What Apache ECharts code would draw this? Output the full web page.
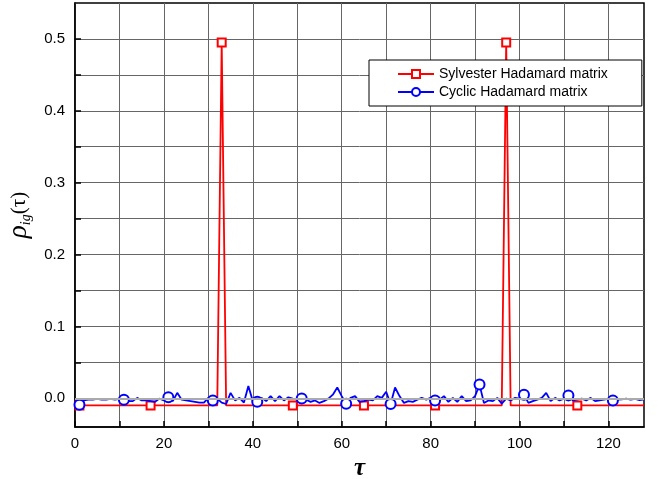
<!DOCTYPE html>
<html>
<head>
<meta charset="utf-8">
<script src="https://cdn.jsdelivr.net/npm/echarts@6/dist/echarts.min.js"></script>
<style>
  html, body { margin: 0; padding: 0; background: #fff; }
  #chart { width: 665px; height: 479px; }
</style>
</head>
<body>
<div id="chart"></div>
<script>
// tau = 1..128
var tau = [];
for (var t = 1; t <= 128; t++) tau.push(t);

// Sylvester Hadamard matrix
var sylvester = [
  -0.01, -0.01, -0.01, -0.01, -0.01, -0.01, -0.01, -0.01, -0.01, -0.01, -0.01, -0.01, -0.01, -0.01, -0.01, -0.01,
  -0.01, -0.01, -0.01, -0.01, -0.01, -0.01, -0.01, -0.01, -0.01, -0.01, -0.01, -0.01, -0.01, -0.01, -0.01, -0.01,
  0.495, -0.01, -0.01, -0.01, -0.01, -0.01, -0.01, -0.01, -0.01, -0.01, -0.01, -0.01, -0.01, -0.01, -0.01, -0.01,
  -0.01, -0.01, -0.01, -0.01, -0.01, -0.01, -0.01, -0.01, -0.01, -0.01, -0.01, -0.01, -0.01, -0.01, -0.01, -0.01,
  -0.01, -0.01, -0.01, -0.01, -0.01, -0.01, -0.01, -0.01, -0.01, -0.01, -0.01, -0.01, -0.01, -0.01, -0.01, -0.01,
  -0.01, -0.01, -0.01, -0.01, -0.01, -0.01, -0.01, -0.01, -0.01, -0.01, -0.01, -0.01, -0.01, -0.01, -0.01, -0.01,
  0.495, -0.01, -0.01, -0.01, -0.01, -0.01, -0.01, -0.01, -0.01, -0.01, -0.01, -0.01, -0.01, -0.01, -0.01, -0.01,
  -0.01, -0.01, -0.01, -0.01, -0.01, -0.01, -0.01, -0.01, -0.01, -0.01, -0.01, -0.01, -0.01, -0.01, -0.01, -0.01
];

// Cyclic Hadamard matrix
var cyclic = [
  -0.009, -0.003, -0.002, -0.002, -0.001, -0.002, -0.002, -0.001, -0.002, -0.001,
  -0.002, -0.004, -0.004, 0.0005, -0.003, -0.003, -0.004, -0.005, -0.0005, -0.003,
  0.0014, -0.004, 0.0075, -0.002, -0.003, -0.004, -0.005, -0.006, -0.006, 0.0005,
  -0.003, -0.0005, -0.006, -0.008, 0.0075, -0.003, 0.0005, -0.006, 0.017, -0.004,
  -0.005, 0.0005, -0.004, 0.003, -0.004, 0.003, -0.003, 0.0014, -0.0005, -0.002,
  -0.0005, -0.002, -0.005, -0.003, -0.0065, -0.004, -0.0005, 0.005, 0.015, 0.003,
  -0.0075, 0.0005, 0.003, -0.005, -0.004, -0.002, -0.003, 0.003, 0.0005, 0.009,
  -0.008, 0.015, 0.003, -0.0065, -0.004, -0.005, -0.002, 0.0005, -0.002, 0.0005,
  -0.003, -0.002, 0.003, -0.005, 0.0005, -0.005, 0.003, -0.004, -0.003, 0.003,
  0.019, -0.0065, -0.003, -0.004, 0.0005, -0.0075, -0.0005, -0.003, 0.0005, -0.0005,
  0.005, -0.0065, -0.004, -0.002, 0.0005, 0.0075, -0.004, 0.0005, -0.003, -0.0005,
  0.004, -0.003, -0.002, -0.0005, -0.003, 0.0005, -0.004, -0.003, -0.002, -0.0005,
  -0.003, -0.002, -0.0015, -0.0005, -0.002, -0.001, -0.0025, -0.0015
];

// marker positions (tau values) as drawn
var sylvesterMarks = [1, 17, 33, 49, 65, 81, 97, 113];
var cyclicMarks = [1, 11, 21, 31, 41, 51, 61, 71, 81, 91, 101, 111, 121];

var xTicks = [0, 10, 20, 30, 40, 50, 60, 70, 80, 90, 100, 110, 120];
var xLabels = [0, 20, 40, 60, 80, 100, 120];
var yTicks = [0, 0.05, 0.1, 0.15, 0.2, 0.25, 0.3, 0.35, 0.4, 0.45, 0.5];
var yLabels = [0, 0.1, 0.2, 0.3, 0.4, 0.5];

function buildData(ys, marks) {
  return tau.map(function (t, i) {
    var item = { value: [t, ys[i]] };
    if (marks.indexOf(t) < 0) item.symbol = 'none';
    return item;
  });
}

var chart = echarts.init(document.getElementById('chart'));

var labelFont = { fontFamily: 'Liberation Sans, Arial, sans-serif', fontSize: 15, color: '#000' };

var option = {
  animation: false,
  grid: {
    left: 75, right: 21, top: 3, bottom: 52,
    outerBoundsMode: 'none',
    containLabel: false,
    show: true, borderColor: '#000', borderWidth: 1.5
  },
  legend: {
    orient: 'vertical',
    left: 369, top: 60,
    padding: [7, 34, 7, 28],
    itemGap: 4,
    itemWidth: 36,
    itemHeight: 10,
    borderColor: '#000',
    borderWidth: 1,
    backgroundColor: '#fff',
    textStyle: { fontFamily: 'Liberation Sans, Arial, sans-serif', fontSize: 14, color: '#000' },
    data: ['Sylvester Hadamard matrix', 'Cyclic Hadamard matrix']
  },
  xAxis: {
    type: 'value',
    min: 0, max: 128,
    name: 'τ',
    nameLocation: 'middle',
    nameGap: 27,
    nameTextStyle: { fontFamily: 'Liberation Serif, Times New Roman, serif', fontStyle: 'italic', fontWeight: 'bold', fontSize: 25, color: '#000' },
    axisLine: { onZero: false, lineStyle: { color: '#000', width: 1.5 } },
    axisTick: { inside: true, length: 6, customValues: xTicks, lineStyle: { color: '#000', width: 1.5 } },
    axisLabel: Object.assign({ margin: 9, customValues: xLabels }, labelFont),
    splitLine: { show: true, lineStyle: { color: '#666', width: 1 } }
  },
  yAxis: {
    type: 'value',
    min: -0.04, max: 0.55,
    name: '{a|ρ}{b|ig}{c|(τ)}',
    nameLocation: 'middle',
    nameRotate: 90,
    nameGap: 29,
    nameTextStyle: {
      rich: {
        a: { fontFamily: 'Liberation Serif, serif', fontStyle: 'italic', fontSize: 27, color: '#000' },
        b: { fontFamily: 'Liberation Serif, serif', fontStyle: 'italic', fontSize: 14, color: '#000', padding: [14, 0, 0, 0] },
        c: { fontFamily: 'Liberation Serif, serif', fontSize: 21, color: '#000' }
      }
    },
    axisLine: { show: true, onZero: false, lineStyle: { color: '#000', width: 1.5 } },
    axisTick: { show: true, inside: true, length: 6, customValues: yTicks, lineStyle: { color: '#000', width: 1.5 } },
    axisLabel: Object.assign({
      margin: 10,
      customValues: yLabels,
      formatter: function (v) { return v.toFixed(1); }
    }, labelFont),
    splitLine: { show: true, lineStyle: { color: '#666', width: 1 } }
  },
  series: [
    {
      name: 'Sylvester Hadamard matrix',
      type: 'line',
      z: 2,
      data: buildData(sylvester, sylvesterMarks),
      symbol: 'emptyRect',
      symbolSize: 8,
      showAllSymbol: true,
      color: '#ff0000',
      lineStyle: { color: '#ff0000', width: 1.8 },
      itemStyle: { color: '#ff0000', borderColor: '#ff0000', borderWidth: 1.2 },
      markLine: {
        silent: true,
        symbol: 'none',
        label: { show: false },
        lineStyle: { color: '#aaa', width: 2, type: 'solid' },
        data: [{ yAxis: 0 }]
      }
    },
    {
      name: 'Cyclic Hadamard matrix',
      type: 'line',
      z: 3,
      data: buildData(cyclic, cyclicMarks),
      symbol: 'emptyCircle',
      symbolSize: 10,
      showAllSymbol: true,
      color: '#0000ff',
      lineStyle: { color: '#0000ff', width: 1.8 },
      itemStyle: { color: '#0000ff', borderColor: '#0000ff', borderWidth: 1.2 }
    }
  ]
};

chart.setOption(option);
</script>
</body>
</html>
